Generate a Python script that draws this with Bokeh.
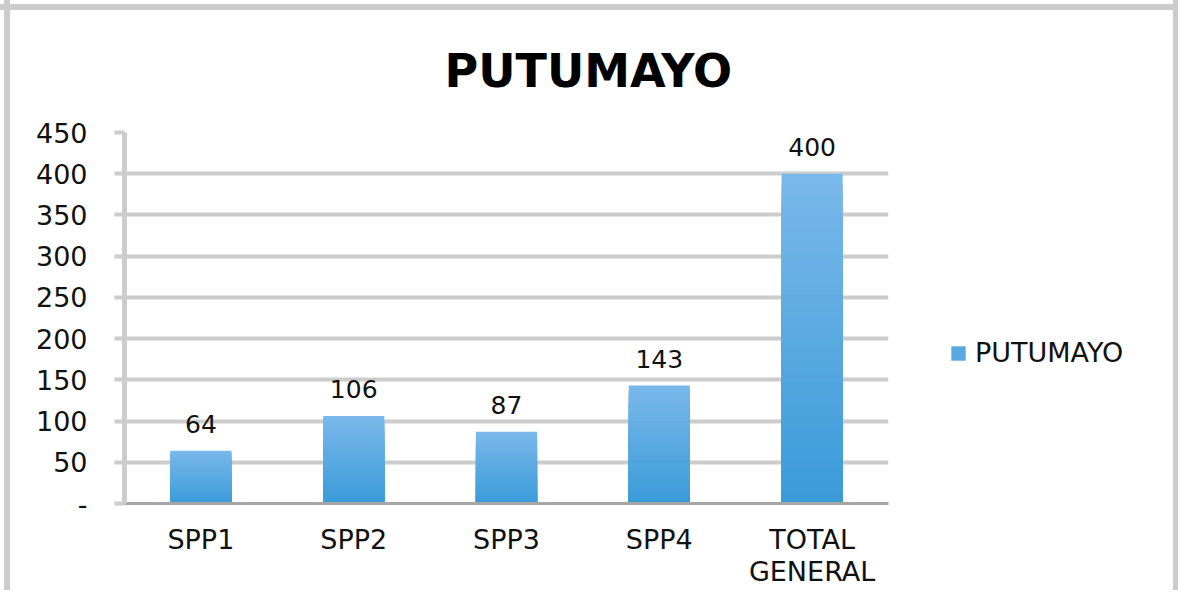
from bokeh.plotting import figure
from bokeh.models import (ColumnDataSource, FixedTicker, LabelSet, Legend, LegendItem, Range1d, Title)
from bokeh.core.properties import value
from bokeh.embed import file_html
from bokeh.resources import INLINE

# ---- data ----
categories = ["SPP1", "SPP2", "SPP3", "SPP4", "TOTAL\nGENERAL"]
values = [64, 106, 87, 143, 400]
y_ticks = [0, 50, 100, 150, 200, 250, 300, 350, 400, 450]
y_tick_labels = ["-", "50", "100", "150", "200", "250", "300", "350", "400", "450"]
series_name = "PUTUMAYO"
title_text = "PUTUMAYO"

FONT = "DejaVu Sans"

p = figure(x_range=categories, y_range=Range1d(0, 450),
           frame_width=764, frame_height=371,
           min_border_left=124, min_border_top=132, min_border_right=274, min_border_bottom=85,
           output_backend="svg", toolbar_location=None, title=None)
# outer chart frame (top / left / right grey rules) drawn by the page background
p.styles = {
    "background-color": "white",
    "background-image": "linear-gradient(#cccccc,#cccccc), linear-gradient(#cccccc,#cccccc), linear-gradient(#cccccc,#cccccc)",
    "background-size": "100% 6px, 6px 100%, 5px 100%",
    "background-position": "0 4px, 4px 0, 1173px 0",
    "background-repeat": "no-repeat",
}
p.background_fill_color = "white"
p.border_fill_alpha = 0
p.outline_line_color = None

# gradient bars: overlapping full bars drawn tallest (lightest) first, darker shorter ones on top
n = 30
c_bot = (0x3a, 0x9a, 0xd9)
c_top = (0x7a, 0xb9, 0xea)
xs, tops, cols = [], [], []
for k in range(n):
    frac = (n - k) / n
    t = (n - k - 0.5) / n
    col = tuple(int(round(c_bot[i] + (c_top[i] - c_bot[i]) * t)) for i in range(3))
    for cat, v in zip(categories, values):
        xs.append(cat)
        tops.append(v * frac)
        cols.append("#%02x%02x%02x" % col)
src = ColumnDataSource(dict(x=xs, top=tops, color=cols))
bars = p.vbar(x="x", bottom=0, top="top", width=0.4, source=src,
              fill_color="color", line_color=None)

# data labels
lab_src = ColumnDataSource(dict(x=categories, y=values, t=[str(v) for v in values]))
p.add_layout(LabelSet(x="x", y="y", text="t", source=lab_src, y_offset=18,
                      text_align="center", text_baseline="alphabetic",
                      text_font=value(FONT), text_font_size="25px", text_color="#111111"))

# title
p.add_layout(Title(text=title_text, align="left", offset=320, standoff=70,
                   text_font=FONT, text_font_style="bold", text_font_size="46px",
                   text_color="#000000"), "above")

# grid
p.xgrid.grid_line_color = None
p.ygrid.grid_line_color = "#cccccc"
p.ygrid.grid_line_width = 4
p.ygrid.ticker = FixedTicker(ticks=y_ticks)

# y axis
p.yaxis.ticker = FixedTicker(ticks=y_ticks)
p.yaxis.major_label_overrides = {t: l for t, l in zip(y_ticks, y_tick_labels)}
p.yaxis.axis_line_color = "#cccccc"
p.yaxis.axis_line_width = 5
p.yaxis.major_tick_line_color = "#cccccc"
p.yaxis.major_tick_line_width = 4
p.yaxis.major_tick_out = 10
p.yaxis.major_tick_in = 0
p.yaxis.minor_tick_line_color = None
p.yaxis.major_label_standoff = 27
p.yaxis.major_label_text_font = FONT
p.yaxis.major_label_text_font_size = "27px"
p.yaxis.major_label_text_color = "#111111"

# x axis
p.xaxis.axis_line_color = "#a6a6a6"
p.xaxis.axis_line_width = 3
p.xaxis.major_tick_line_color = None
p.xaxis.major_tick_out = 0
p.xaxis.major_label_standoff = 20
p.xaxis.major_label_text_font = FONT
p.xaxis.major_label_text_font_size = "27px"
p.xaxis.major_label_text_color = "#111111"
p.xaxis.major_label_text_line_height = 1.05

# legend
legend = Legend(items=[LegendItem(label=series_name, renderers=[bars], index=len(values) * (n // 2))],
                location=(61, 135), orientation="vertical",
                padding=0, margin=0, spacing=0,
                glyph_width=18, glyph_height=18, label_standoff=8,
                label_text_font=FONT, label_text_font_size="27px", label_text_color="#111111",
                border_line_color=None, background_fill_alpha=0)
p.add_layout(legend, "right")

open("out.html", "w").write(file_html(p, INLINE))
